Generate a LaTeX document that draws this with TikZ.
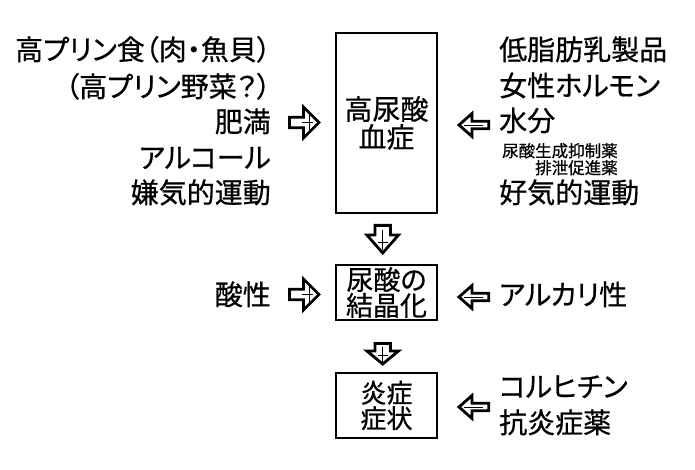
\documentclass[tikz,border=0pt]{standalone}
\usepackage{fontspec}
\setmainfont{Noto Sans CJK JP}[RawFeature=+palt,FakeBold=0.6]
\begin{document}
\begin{tikzpicture}[x=1pt,y=-1pt,
  arr/.style={line width=2.8pt,line join=miter,miter limit=10,draw=black,fill=white},
  signline/.style={line width=0.9pt},
  big/.style={font=\fontsize{28}{28}\selectfont,inner sep=0pt},
  small/.style={font=\fontsize{16.5}{17}\selectfont,inner sep=0pt},
  box/.style={draw,line width=1.2pt,minimum width=101pt,inner sep=0pt,align=center},
  pics/rarr/.style={code={
    \draw[arr] (-15.5,-5.2) -- (-1.5,-5.2) -- (-1.5,-15.5) -- (14,0) -- (-1.5,15.5) -- (-1.5,5.2) -- (-15.5,5.2) -- cycle;
    \draw[signline] (-3,0) -- (8,0) (4,-9) -- (4,10);}},
  pics/larr/.style={code={
    \draw[arr] (15.3,-3.7) -- (-1.5,-3.7) -- (-1.5,-11.5) -- (-14.5,0) -- (-1.5,11.5) -- (-1.5,3.7) -- (15.3,3.7) -- cycle;
    \draw[signline] (-10,0) -- (9,0);}},
]
\fill[white] (0,0) rectangle (695,470);
\useasboundingbox (0,0) rectangle (695,470);

% boxes
\node[box,minimum height=180pt,font=\fontsize{28}{28}\selectfont] (b1) at (386.5,123) {高尿酸\\血症};
\node[box,minimum height=55pt,font=\fontsize{27}{24}\selectfont] (b2) at (386.5,292.5) {尿酸の\\結晶化};
\node[box,minimum height=65pt,font=\fontsize{26}{25.5}\selectfont] (b3) at (386.5,405.5) {炎症\\症状};

% left column
\node[big,anchor=base east] (l1) at (271,60) {高プリン食（肉・魚貝）};
\node[big,anchor=base east] (l2) at (271,97) {（高プリン野菜？）};
\node[big,anchor=base east] (l3) at (271,132) {肥満};
\node[big,anchor=base east] (l4) at (271,168) {アルコール};
\node[big,anchor=base east] (l5) at (271,203) {嫌気的運動};
\node[big,anchor=base east] (l6) at (271,305) {酸性};

% right column
\node[big,anchor=base west] (r1) at (499,60) {低脂肪乳製品};
\node[big,anchor=base west] (r2) at (499,96) {女性ホルモン};
\node[big,anchor=base west] (r3) at (499,131) {水分};
\node[small,anchor=base west] (r4) at (502,157) {尿酸生成抑制薬};
\node[small,anchor=base east] (r4b) at ([yshift=-17pt]r4.base east) {排泄促進薬};
\node[big,anchor=base west] (r5) at (499,203) {好気的運動};
\node[big,anchor=base west] (r6) at (499,305) {アルカリ性};
\node[big,anchor=base west] (r7) at (499,397) {コルヒチン};
\node[big,anchor=base west] (r8) at (499,433) {抗炎症薬};

% side arrows
\pic (a1) at (305,122.5) {rarr};
\pic (a2) at (305,294.5) {rarr};
\pic (a3) at (473.5,125) {larr};
\pic (a4) at (473.5,297) {larr};
\pic (a5) at (473.5,407) {larr};

% down arrows
\draw[arr] (375,225.4) -- (390.4,225.4) -- (390.4,235) -- (398.5,235) -- (382.7,253) -- (366.9,235) -- (375,235) -- cycle;
\draw[signline] (382.5,230) -- (382.5,250) (377.5,242) -- (387.5,242);
\draw[arr] (375,343.4) -- (390.4,343.4) -- (390.4,351) -- (398.5,351) -- (382.7,364) -- (366.9,351) -- (375,351) -- cycle;
\draw[signline] (382.5,347) -- (382.5,362) (377.5,355) -- (387.5,355);
\end{tikzpicture}
\end{document}
